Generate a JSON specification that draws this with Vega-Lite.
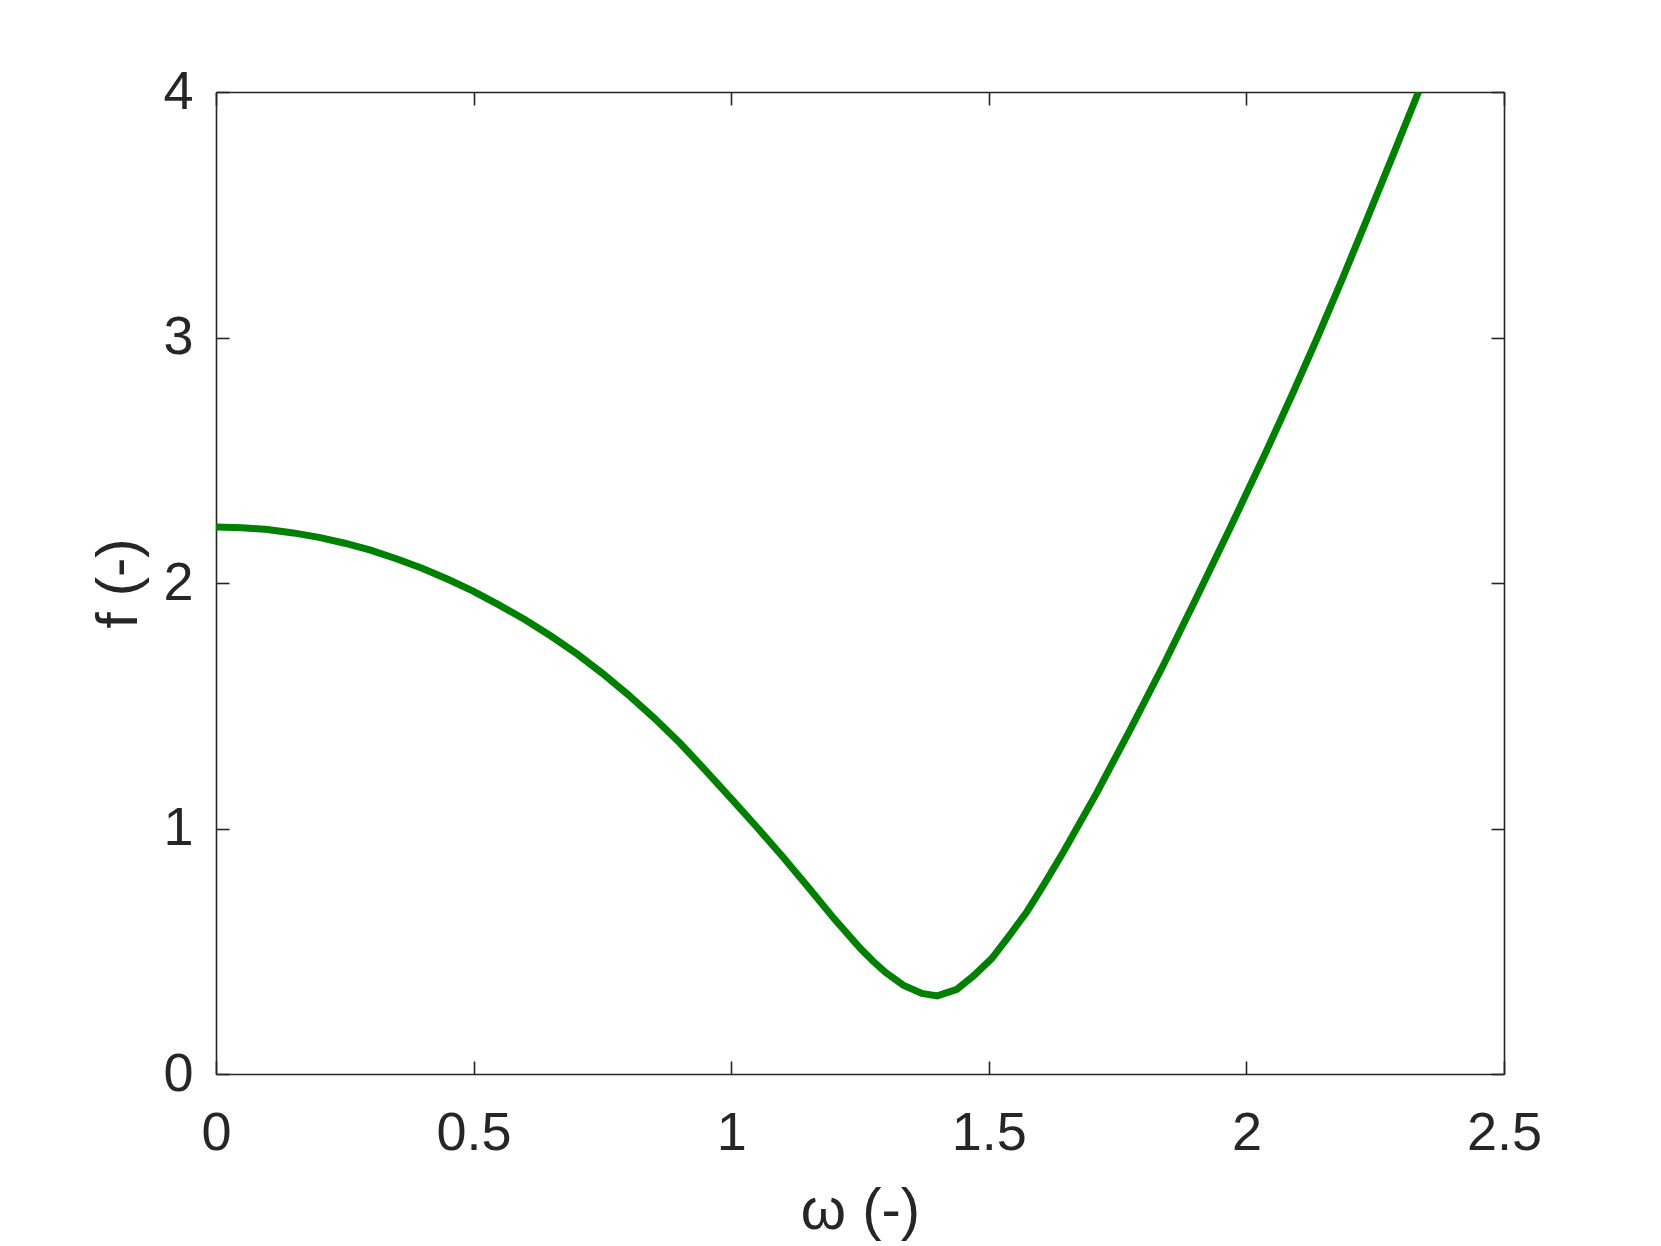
{
  "$schema": "https://vega.github.io/schema/vega-lite/v6.json",
  "width": 1288,
  "height": 982,
  "autosize": {"type": "none"},
  "padding": {"left": 216, "top": 92, "right": 157, "bottom": 172},
  "background": "white",
  "config": {
    "view": {"stroke": null},
    "axis": {
      "domainColor": "#262626",
      "domainWidth": 1.6,
      "tickColor": "#262626",
      "tickWidth": 1.6,
      "tickSize": -13,
      "grid": false,
      "labelFont": "Liberation Sans",
      "labelFontSize": 54,
      "labelColor": "#262626",
      "titleFont": "Liberation Sans",
      "titleFontSize": 58,
      "titleFontWeight": "normal",
      "titleColor": "#262626"
    }
  },
  "data": {
    "values": [
      {"w": 0.00, "f": 2.228},
      {"w": 0.05, "f": 2.225},
      {"w": 0.10, "f": 2.218},
      {"w": 0.15, "f": 2.204},
      {"w": 0.20, "f": 2.186},
      {"w": 0.25, "f": 2.162},
      {"w": 0.30, "f": 2.134},
      {"w": 0.35, "f": 2.099},
      {"w": 0.40, "f": 2.060},
      {"w": 0.45, "f": 2.015},
      {"w": 0.50, "f": 1.966},
      {"w": 0.55, "f": 1.910},
      {"w": 0.60, "f": 1.850},
      {"w": 0.65, "f": 1.784},
      {"w": 0.70, "f": 1.712},
      {"w": 0.75, "f": 1.632},
      {"w": 0.80, "f": 1.545},
      {"w": 0.85, "f": 1.451},
      {"w": 0.90, "f": 1.349},
      {"w": 0.95, "f": 1.237},
      {"w": 1.00, "f": 1.122},
      {"w": 1.05, "f": 1.005},
      {"w": 1.10, "f": 0.885},
      {"w": 1.15, "f": 0.760},
      {"w": 1.20, "f": 0.632},
      {"w": 1.25, "f": 0.513},
      {"w": 1.276, "f": 0.458},
      {"w": 1.30, "f": 0.413},
      {"w": 1.334, "f": 0.362},
      {"w": 1.37, "f": 0.328},
      {"w": 1.40, "f": 0.318},
      {"w": 1.438, "f": 0.345},
      {"w": 1.47, "f": 0.399},
      {"w": 1.506, "f": 0.471},
      {"w": 1.538, "f": 0.559},
      {"w": 1.574, "f": 0.661},
      {"w": 1.606, "f": 0.768},
      {"w": 1.645, "f": 0.905},
      {"w": 1.709, "f": 1.143},
      {"w": 1.774, "f": 1.401},
      {"w": 1.839, "f": 1.666},
      {"w": 1.904, "f": 1.944},
      {"w": 1.97, "f": 2.231},
      {"w": 2.04, "f": 2.543},
      {"w": 2.09, "f": 2.773},
      {"w": 2.137, "f": 2.996},
      {"w": 2.185, "f": 3.233},
      {"w": 2.234, "f": 3.482},
      {"w": 2.284, "f": 3.740},
      {"w": 2.334, "f": 4.0}
    ]
  },
  "layer": [
    {
      "mark": {"type": "line", "strokeOpacity": 0},
      "encoding": {
        "x": {"field": "w", "type": "quantitative", "scale": {"domain": [0, 2.5], "nice": false, "zero": false},
              "axis": {"orient": "top", "labels": false, "title": null, "values": [0, 0.5, 1, 1.5, 2, 2.5]}},
        "y": {"field": "f", "type": "quantitative", "scale": {"domain": [0, 4], "nice": false},
              "axis": {"orient": "right", "labels": false, "title": null, "values": [0, 1, 2, 3, 4]}}
      }
    },
    {
      "mark": {"type": "line", "color": "#008000", "strokeWidth": 7, "clip": true},
      "encoding": {
        "x": {"field": "w", "type": "quantitative",
              "axis": {"orient": "bottom", "title": "ω (-)", "format": "~g", "values": [0, 0.5, 1, 1.5, 2, 2.5], "labelPadding": 45, "titlePadding": 22, "labelFlush": false}},
        "y": {"field": "f", "type": "quantitative",
              "axis": {"orient": "left", "title": "f (-)", "format": "~g", "values": [0, 1, 2, 3, 4], "labelPadding": 36, "titlePadding": 14}}
      }
    }
  ],
  "resolve": {"axis": {"x": "independent", "y": "independent"}}
}
